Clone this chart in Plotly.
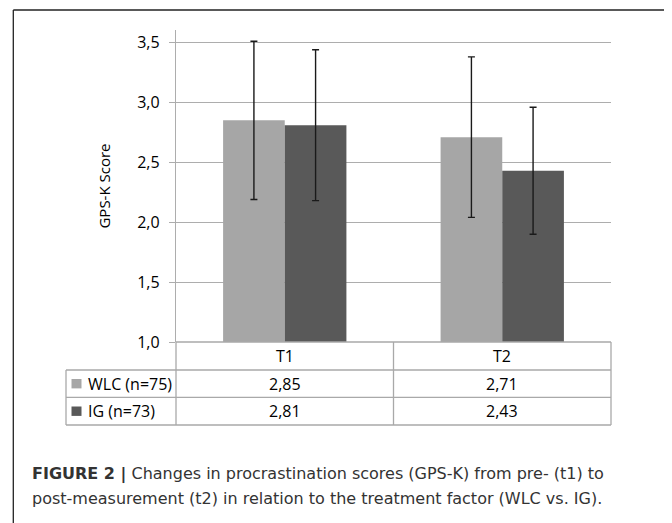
import plotly.graph_objects as go

# ---- data ----
categories = ["T1", "T2"]
series_names = ["WLC (n=75)", "IG (n=73)"]
wlc_means = [2.85, 2.71]
ig_means = [2.81, 2.43]
wlc_sd = [0.66, 0.67]
ig_sd = [0.63, 0.53]
y_ticks = [1.0, 1.5, 2.0, 2.5, 3.0, 3.5]
y_title = "GPS-K Score"
caption_line1 = "<b>FIGURE 2 |</b> Changes in procrastination scores (GPS-K) from pre- (t1) to"
caption_line2 = "post-measurement (t2) in relation to the treatment factor (WLC vs. IG)."

# ---- layout geometry (pixels; page offset of 8 px from body margin) ----
OFF = 8
W, H = 664, 515
L, R, T, B = 168, 61, 22, 181
PW = W - L - R
PH = H - T - B


def px(x_page):
    return (x_page - OFF - L) / PW


def py(y_page):
    return (H - B - (y_page - OFF)) / PH


colors = ["#A6A6A6", "#595959"]
grid_col = "#ADADAD"
table_col = "#A9A9A9"
chart_font = "Open Sans, Lato, sans-serif"

fig = go.Figure()
for name, means, sd, col in zip(series_names, [wlc_means, ig_means], [wlc_sd, ig_sd], colors):
    fig.add_trace(go.Bar(
        x=categories, y=[m - 1.0 for m in means], base=1.0, name=name,
        marker=dict(color=col, line=dict(width=0)),
        error_y=dict(type="data", array=sd, color="#1A1A1A", thickness=1.4, width=3.5),
        showlegend=False,
    ))

shapes = []


def hline(y, x0, x1, color=table_col, w=1.3):
    shapes.append(dict(type="line", xref="paper", yref="paper", x0=px(x0), x1=px(x1),
                       y0=py(y), y1=py(y), line=dict(color=color, width=w)))


def vline(x, y0, y1, color=table_col, w=1.3):
    shapes.append(dict(type="line", xref="paper", yref="paper", x0=px(x), x1=px(x),
                       y0=py(y0), y1=py(y1), line=dict(color=color, width=w)))


# table grid
for yy in [370, 397.3, 425]:
    hline(yy, 66, 611)
vline(66, 370, 425)
vline(176, 342, 425)
vline(393.5, 342, 425)
vline(611, 342, 425)
hline(342, 176, 611)

# legend squares in the table
row_y = [383.7, 411.2]
for yc, col in zip(row_y, colors):
    shapes.append(dict(type="rect", xref="paper", yref="paper",
                       x0=px(71.5), x1=px(81.5), y0=py(yc - 4.7), y1=py(yc + 4.7),
                       fillcolor=col, line=dict(width=0)))

# outer frame
frame_col = "#222222"
shapes.append(dict(type="line", xref="paper", yref="paper", x0=px(13.3), x1=px(13.3),
                   y0=py(10), y1=py(540), line=dict(color=frame_col, width=1.3)))
shapes.append(dict(type="line", xref="paper", yref="paper", x0=px(669.3), x1=px(669.3),
                   y0=py(10), y1=py(540), line=dict(color=frame_col, width=1.3)))
shapes.append(dict(type="line", xref="paper", yref="paper", x0=px(13.3), x1=px(669.3),
                   y0=py(10), y1=py(10), line=dict(color=frame_col, width=1.3)))

annotations = []
tfont = dict(family=chart_font, size=16, color="#000000")
# header row
for c in categories:
    annotations.append(dict(x=c, xref="x", y=py(356), yref="paper", text=c, showarrow=False,
                            font=tfont, xanchor="center", yanchor="middle"))
# value rows
for name, means, yc in zip(series_names, [wlc_means, ig_means], row_y):
    annotations.append(dict(x=px(86), xref="paper", y=py(yc), yref="paper", text=name,
                            showarrow=False, xanchor="left", yanchor="middle", font=tfont))
    for c, m in zip(categories, means):
        annotations.append(dict(x=c, xref="x", y=py(yc), yref="paper",
                                text=f"{m:.2f}".replace(".", ","), showarrow=False,
                                xanchor="center", yanchor="middle", font=tfont))
# caption
cap_font = dict(family="DejaVu Sans, Liberation Sans, sans-serif", size=16, color="#333333")
annotations.append(dict(x=px(30), xref="paper", y=py(474), yref="paper", text=caption_line1,
                        showarrow=False, xanchor="left", yanchor="middle", font=cap_font))
annotations.append(dict(x=px(30), xref="paper", y=py(498.5), yref="paper", text=caption_line2,
                        showarrow=False, xanchor="left", yanchor="middle", font=cap_font))

fig.update_layout(
    width=W, height=H,
    margin=dict(l=L, r=R, t=T, b=B, pad=0),
    paper_bgcolor="white", plot_bgcolor="white",
    barmode="group", bargap=0.433, bargroupgap=0,
    shapes=shapes, annotations=annotations,
    xaxis=dict(type="category", showticklabels=False, showgrid=False, zeroline=False,
               showline=False, ticks=""),
    yaxis=dict(range=[1.0, 1.0 + PH / 119.8], tickvals=y_ticks,
               ticktext=[f"{v:.1f}".replace(".", ",") for v in y_ticks],
               showgrid=True, gridcolor=grid_col, gridwidth=1.4, zeroline=False,
               showline=True, linecolor=grid_col, linewidth=1.4,
               ticks="outside", ticklen=6, tickcolor=grid_col, tickwidth=1.4,
               ticklabelstandoff=6,
               tickfont=tfont,
               title=dict(text=y_title, standoff=22,
                          font=dict(family=chart_font, size=15, color="#000000"))),
)

fig.write_html("out.html")
